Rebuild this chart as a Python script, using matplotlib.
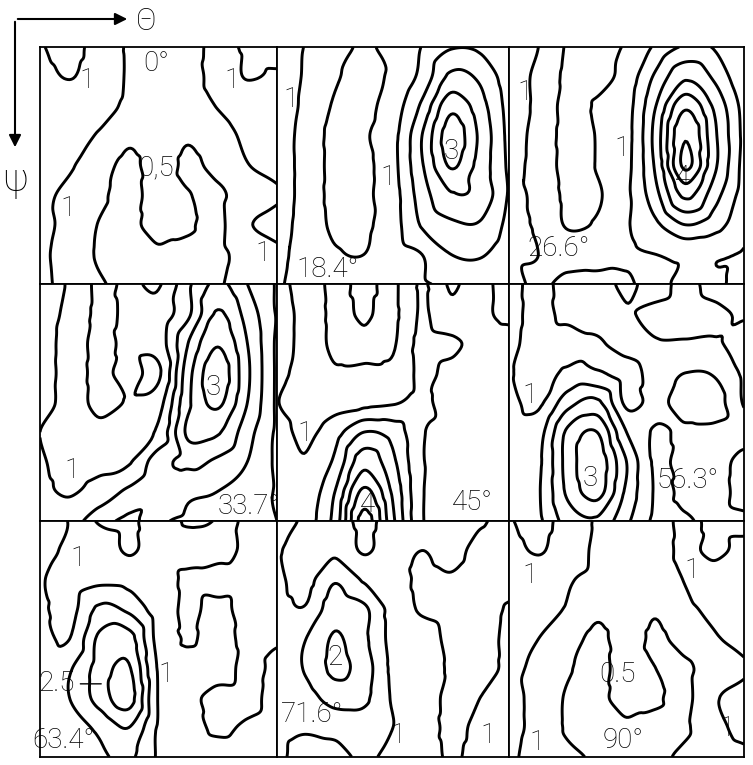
import numpy as np
import matplotlib.pyplot as plt
import matplotlib.tri as mtri
from matplotlib.patches import FancyArrowPatch

# contour levels of the ODF sections
levels = [0.5, 1.0, 1.5, 2.0, 2.5, 3.0, 3.5, 4.0]

# section angles (row by row)
sections = ["0°", "18.4°", "26.6°", "33.7°", "45°", "56.3°", "63.4°", "71.6°", "90°"]

s00 = [[1.05, 0.8, 1.2, 0.95, 0.8, 0.85, 1.1, 0.95, 0.85],
       [1.2, 0.97, 1.25, 0.95, 0.75, 0.8, 1.15, 0.98, 1.05],
       [1.3, 1.3, 1.2, 0.9, 0.75, 0.75, 1.02, 1.2, 1.3],
       [1.3, 1.2, 0.95, 0.6, 0.75, 0.55, 0.8, 1.1, 1.3],
       [1.2, 1.05, 0.7, 0.4, 0.7, 0.42, 0.65, 0.98, 1.15],
       [1.1, 0.9, 0.6, 0.35, 0.7, 0.52, 0.42, 0.75, 0.95],
       [1.15, 0.85, 0.48, 0.35, 0.75, 0.55, 0.4, 0.95, 1.15],
       [1.1, 0.8, 0.45, 0.35, 0.4, 0.4, 0.4, 0.7, 0.9],
       [1.1, 0.85, 0.55, 0.4, 0.35, 0.4, 0.45, 0.75, 0.9]]

s18 = [[1.15, 0.98, 0.8, 0.4, 0.75, 1.02, 1.45, 1.4, 1.15],
       [1.2, 0.95, 0.55, 0.4, 0.6, 1.15, 2.1, 1.9, 1.2],
       [1.25, 0.9, 0.45, 0.4, 0.75, 1.6, 2.85, 2.2, 1.3],
       [1.2, 0.85, 0.35, 0.45, 0.85, 2.0, 3.25, 2.4, 1.35],
       [1.2, 0.85, 0.35, 0.4, 0.85, 1.95, 3.05, 2.3, 1.4],
       [1.2, 0.85, 0.35, 0.42, 0.8, 1.75, 2.45, 2.35, 1.45],
       [1.15, 0.85, 0.4, 0.42, 0.8, 1.55, 1.9, 1.95, 1.35],
       [1.1, 0.85, 0.55, 0.5, 0.8, 1.0, 1.5, 1.55, 1.2],
       [1.05, 0.85, 0.75, 0.75, 0.85, 0.95, 1.05, 1.2, 1.1]]

s26 = [[1.15, 1.0, 0.45, 0.4, 0.55, 1.1, 1.55, 1.45, 1.1],
       [1.2, 0.9, 0.4, 0.35, 0.7, 1.6, 2.4, 1.9, 1.05],
       [1.2, 0.9, 0.35, 0.55, 0.8, 2.0, 3.4, 2.4, 1.3],
       [1.2, 0.85, 0.35, 0.52, 0.82, 2.2, 3.95, 2.6, 1.35],
       [1.15, 0.85, 0.35, 0.52, 0.85, 2.1, 4.1, 2.6, 1.3],
       [1.1, 0.9, 0.4, 0.45, 0.9, 1.85, 3.1, 2.2, 1.25],
       [1.05, 0.95, 0.45, 0.55, 0.95, 1.4, 2.0, 1.7, 1.15],
       [1.05, 1.0, 0.85, 0.8, 0.95, 1.0, 1.1, 1.05, 0.95],
       [1.1, 0.95, 1.1, 1.15, 1.05, 0.9, 1.1, 1.05, 0.9]]

s33 = [[1.15, 0.95, 0.4, 0.6, 0.45, 1.4, 2.1, 1.5, 0.95],
       [1.15, 0.9, 0.4, 0.6, 0.7, 1.4, 2.55, 1.8, 0.95],
       [1.15, 0.85, 0.35, 0.65, 0.75, 2.0, 2.95, 2.0, 0.9],
       [1.15, 0.85, 0.35, 0.72, 0.42, 2.3, 3.3, 2.1, 0.9],
       [1.15, 0.85, 0.35, 0.55, 0.8, 2.4, 3.1, 2.0, 0.9],
       [1.0, 0.8, 0.65, 0.8, 1.1, 2.6, 2.55, 1.7, 0.9],
       [1.05, 0.85, 0.85, 0.95, 1.8, 2.1, 1.9, 1.5, 0.9],
       [1.1, 0.95, 1.2, 1.6, 1.9, 1.6, 1.5, 1.3, 0.95],
       [1.15, 1.3, 1.8, 2.1, 1.6, 1.4, 1.3, 1.2, 1.0]]

s45 = [[1.15, 0.8, 0.4, 0.6, 0.42, 1.05, 0.45, 0.85, 1.2],
       [1.2, 0.85, 0.4, 0.55, 0.4, 1.05, 0.6, 0.9, 1.1],
       [1.2, 0.85, 0.4, 0.45, 0.45, 1.15, 1.1, 0.85, 0.8],
       [1.15, 0.8, 0.55, 0.55, 0.6, 1.1, 0.85, 0.8, 0.8],
       [1.02, 0.75, 0.8, 0.85, 0.95, 1.1, 0.8, 0.8, 0.8],
       [1.2, 0.9, 1.3, 2.0, 1.8, 1.05, 0.85, 0.85, 0.85],
       [1.2, 1.05, 1.6, 2.8, 2.1, 1.05, 0.85, 0.85, 0.85],
       [1.2, 1.2, 2.0, 3.6, 2.4, 1.05, 0.85, 0.85, 0.85],
       [1.2, 1.3, 2.2, 4.2, 2.6, 1.05, 0.85, 0.85, 0.85]]

s56 = [[1.2, 0.85, 1.2, 1.25, 1.6, 1.3, 1.65, 1.3, 1.3],
       [1.2, 0.85, 1.15, 1.2, 1.45, 1.6, 1.7, 1.6, 1.45],
       [1.15, 0.8, 0.75, 0.95, 1.2, 1.45, 1.45, 1.45, 1.7],
       [1.05, 0.8, 1.1, 1.05, 0.85, 1.15, 1.0, 1.05, 1.6],
       [1.15, 0.9, 1.8, 2.1, 0.9, 1.15, 0.75, 0.8, 1.55],
       [1.2, 1.3, 2.6, 3.0, 1.5, 0.95, 1.1, 1.1, 1.2],
       [1.2, 1.4, 2.7, 3.3, 2.0, 0.92, 1.2, 1.15, 0.85],
       [1.2, 1.45, 2.6, 3.2, 1.9, 0.95, 1.1, 1.15, 0.85],
       [1.2, 1.4, 2.2, 2.4, 1.6, 0.9, 0.95, 1.1, 1.1]]

s63 = [[1.2, 0.98, 0.45, 0.4, 0.75, 0.45, 0.55, 1.15, 1.2],
       [1.2, 0.9, 0.8, 0.45, 0.75, 0.75, 0.8, 1.1, 1.2],
       [1.05, 0.8, 0.9, 0.85, 0.75, 1.1, 1.2, 1.2, 1.2],
       [1.1, 0.85, 1.6, 1.4, 0.8, 1.1, 0.85, 1.2, 1.2],
       [1.15, 1.0, 2.1, 2.2, 0.85, 1.05, 0.85, 1.1, 1.05],
       [1.2, 1.45, 2.2, 2.55, 0.95, 0.8, 0.8, 1.1, 0.9],
       [1.2, 1.5, 2.2, 2.7, 0.97, 0.9, 1.15, 1.1, 0.85],
       [1.2, 1.3, 1.6, 2.0, 0.95, 0.9, 1.05, 0.95, 0.85],
       [1.2, 1.25, 1.4, 1.6, 0.95, 0.85, 0.85, 0.85, 0.85]]

s71 = [[1.15, 0.95, 0.75, 0.4, 0.7, 0.75, 0.8, 0.95, 1.15],
       [1.05, 0.8, 0.9, 0.45, 0.8, 1.0, 0.85, 1.15, 1.2],
       [1.1, 0.85, 1.45, 0.95, 0.8, 1.1, 1.05, 1.2, 1.2],
       [1.15, 1.05, 1.8, 1.6, 0.85, 1.05, 1.15, 1.2, 0.95],
       [1.2, 1.5, 2.05, 1.6, 0.85, 0.8, 1.1, 1.15, 0.9],
       [1.2, 1.55, 2.1, 1.75, 0.9, 0.8, 1.05, 1.15, 0.9],
       [1.15, 1.3, 1.7, 1.6, 0.95, 0.8, 1.1, 1.0, 0.85],
       [1.1, 1.05, 1.15, 1.25, 1.0, 0.8, 1.1, 0.9, 0.85],
       [1.1, 0.85, 0.8, 1.1, 0.85, 0.8, 1.05, 0.85, 0.85]]

s90 = [[1.05, 0.8, 1.2, 0.95, 0.75, 0.8, 1.1, 0.9, 0.8],
       [1.2, 0.95, 1.25, 0.9, 0.75, 0.8, 1.1, 0.9, 1.15],
       [1.3, 1.3, 1.05, 0.85, 0.7, 0.75, 1.02, 1.2, 1.3],
       [1.3, 1.2, 0.95, 0.6, 0.75, 0.55, 0.9, 1.1, 1.3],
       [1.2, 1.0, 0.7, 0.4, 0.7, 0.42, 0.7, 0.95, 1.15],
       [1.1, 0.9, 0.55, 0.35, 0.7, 0.5, 0.42, 0.75, 0.95],
       [1.15, 0.85, 0.45, 0.35, 0.75, 0.55, 0.4, 0.95, 1.15],
       [1.15, 0.85, 0.45, 0.35, 0.4, 0.4, 0.45, 0.85, 1.15],
       [1.1, 0.8, 0.6, 0.45, 0.35, 0.4, 0.6, 0.75, 0.85]]

grids = [s00, s18, s26, s33, s45, s56, s63, s71, s90]

# contour labels inside each section: (theta frac, psi frac, text)
labels = [
    [(0.49, 0.07, "0°"), (0.2, 0.14, "1"), (0.81, 0.14, "1"), (0.49, 0.51, "0,5"),
     (0.12, 0.68, "1"), (0.94, 0.87, "1")],
    [(0.06, 0.22, "1"), (0.48, 0.55, "1"), (0.75, 0.44, "3"), (0.22, 0.94, "18.4°")],
    [(0.07, 0.19, "1"), (0.48, 0.43, "1"), (0.74, 0.55, "4"), (0.21, 0.85, "26.6°")],
    [(0.135, 0.785, "1"), (0.73, 0.435, "3"), (0.88, 0.94, "33.7°")],
    [(0.12, 0.63, "1"), (0.39, 0.93, "4"), (0.84, 0.92, "45°")],
    [(0.09, 0.47, "1"), (0.345, 0.82, "3"), (0.76, 0.83, "56.3°")],
    [(0.16, 0.16, "1"), (0.53, 0.65, "1"), (0.1, 0.93, "63.4°")],
    [(0.25, 0.58, "2"), (0.15, 0.82, "71.6°"), (0.52, 0.91, "1"), (0.91, 0.91, "1")],
    [(0.09, 0.23, "1"), (0.78, 0.21, "1"), (0.46, 0.65, "0.5"), (0.485, 0.93, "90°"),
     (0.12, 0.94, "1"), (0.93, 0.88, "1")],
]

W, H = 753, 765
xs = [40, 277, 509, 744]
ys = [47, 284, 521, 757]
font = ['Roboto', 'DejaVu Sans']
lab = dict(fontsize=20, family=font, fontweight='light')

fig = plt.figure(figsize=(W / 100, H / 100), dpi=100)

u = np.linspace(0, 1, 9)
U, V = np.meshgrid(u, u)
tri = mtri.Triangulation(U.ravel(), V.ravel())
refiner = mtri.UniformTriRefiner(tri)

axes = []
for k in range(9):
    i, j = divmod(k, 3)
    ax = fig.add_axes([xs[j] / W, 1 - ys[i + 1] / H,
                       (xs[j + 1] - xs[j]) / W, (ys[i + 1] - ys[i]) / H])
    z = np.array(grids[k]).ravel()
    interp = mtri.CubicTriInterpolator(tri, z, kind='geom')
    tri_f, z_f = refiner.refine_field(z, triinterpolator=interp, subdiv=4)
    ax.tricontour(tri_f, z_f, levels=levels, colors='k', linewidths=2.1)
    ax.set_xlim(0, 1)
    ax.set_ylim(1, 0)
    ax.set_xticks([])
    ax.set_yticks([])
    for sp in ax.spines.values():
        sp.set_linewidth(1.3)
    for (tx, ty, s) in labels[k]:
        ax.text(tx, ty, s, ha='center', va='center', zorder=5, **lab)
    axes.append(ax)

# leader line for the 2.5 label in the 63.4 section
axes[6].annotate("2.5", xy=(0.27, 0.69), xytext=(0.07, 0.69), ha='center', va='center',
                 arrowprops=dict(arrowstyle='-', lw=1.0), **lab)

# axis arrows
fig.patches.append(FancyArrowPatch(
    (15 / W, 1 - 19 / H), (130 / W, 1 - 19 / H), transform=fig.transFigure,
    arrowstyle='-|>', mutation_scale=18, color='k', lw=1.5))
fig.patches.append(FancyArrowPatch(
    (15 / W, 1 - 19 / H), (15 / W, 1 - 150 / H), transform=fig.transFigure,
    arrowstyle='-|>', mutation_scale=18, color='k', lw=1.5))
fig.text(146 / W, 1 - 22 / H, "Θ", fontsize=22, ha='center', va='center',
         family=font, fontweight='light')
fig.text(15 / W, 1 - 180 / H, "ψ", fontsize=28, ha='center', va='center',
         family=font, fontweight='light')

fig.savefig("out.png", dpi=100, facecolor='white')
